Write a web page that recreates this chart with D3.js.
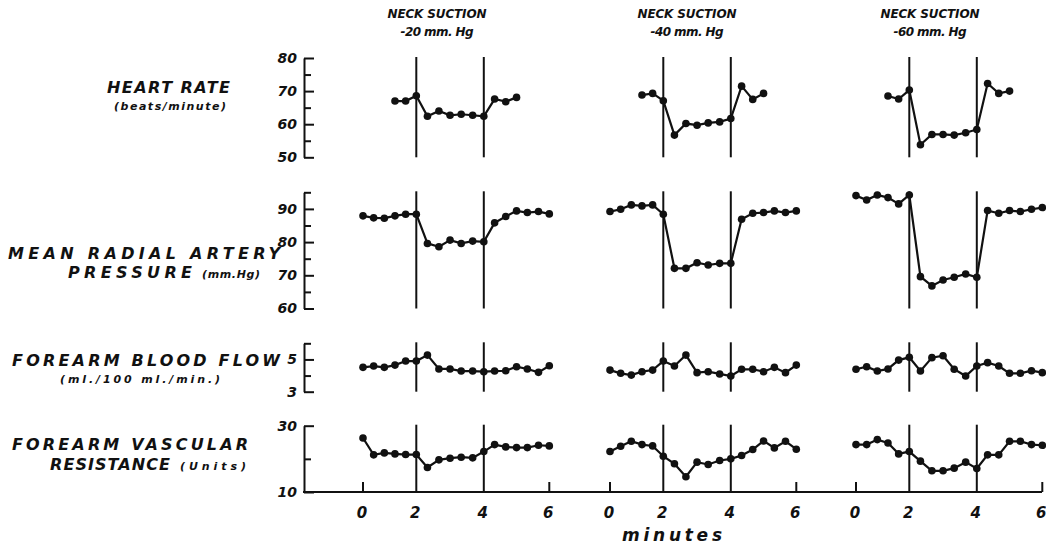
<!DOCTYPE html>
<html>
<head>
<meta charset="utf-8">
<script src="https://cdn.jsdelivr.net/npm/d3@7"></script>
<style>
  body { margin: 0; background: #fff; }
  text { font-family: "DejaVu Sans", Verdana, sans-serif; font-style: italic; font-weight: bold; fill: #111; }
</style>
</head>
<body>
<script>
// sample times (minutes); the control period before suction is sampled more sparsely
const times = [0, 0.4, 0.8, 1.2, 1.6, 2, 2.33, 2.67, 3, 3.33, 3.67, 4, 4.33, 4.67, 5, 5.33, 5.67, 6];
const hrTimes = [1.2, 1.6, 2, 2.33, 2.67, 3, 3.33, 3.67, 4, 4.33, 4.67, 5];
const xTicks = [0, 2, 4, 6];
const suction = ['-20 mm. Hg', '-40 mm. Hg', '-60 mm. Hg'];

// one array per suction level
const heartRate = [
  [67.0, 67.0, 68.6, 62.4, 64.0, 62.7, 63.0, 62.7, 62.4, 67.6, 66.8, 68.1],
  [68.8, 69.3, 67.1, 56.7, 60.2, 59.7, 60.4, 60.7, 61.7, 71.5, 67.5, 69.3],
  [68.5, 67.6, 70.3, 53.8, 56.9, 56.9, 56.7, 57.4, 58.4, 72.3, 69.3, 70.0]
];
const arterialPressure = [
  [87.9, 87.3, 87.2, 87.9, 88.4, 88.4, 79.6, 78.6, 80.6, 79.6, 80.3, 80.1, 85.8, 87.7, 89.4, 88.9, 89.2, 88.5],
  [89.2, 89.9, 91.2, 90.9, 91.2, 88.4, 72.1, 72.1, 73.8, 73.1, 73.6, 73.6, 86.9, 88.7, 88.9, 89.4, 88.9, 89.4],
  [94.0, 92.7, 94.2, 93.4, 91.5, 94.2, 69.6, 66.8, 68.6, 69.4, 70.4, 69.4, 89.5, 88.7, 89.5, 89.2, 89.9, 90.4]
];
const bloodFlow = [
  [4.51, 4.59, 4.51, 4.65, 4.90, 4.90, 5.27, 4.41, 4.41, 4.28, 4.28, 4.24, 4.28, 4.30, 4.55, 4.41, 4.20, 4.61],
  [4.34, 4.14, 4.03, 4.24, 4.34, 4.90, 4.59, 5.27, 4.18, 4.24, 4.10, 3.97, 4.39, 4.39, 4.24, 4.51, 4.18, 4.65],
  [4.39, 4.55, 4.28, 4.41, 4.96, 5.13, 4.28, 5.11, 5.23, 4.39, 3.97, 4.59, 4.80, 4.59, 4.14, 4.14, 4.30, 4.18]
];
const vascularResistance = [
  [26.3, 21.2, 21.8, 21.5, 21.3, 21.3, 17.4, 19.7, 20.2, 20.5, 20.3, 22.2, 24.3, 23.6, 23.4, 23.4, 24.1, 23.9],
  [22.2, 23.8, 25.3, 24.3, 23.9, 20.8, 18.5, 14.6, 19.0, 18.3, 19.5, 20.0, 21.0, 22.8, 25.4, 23.3, 25.3, 22.9],
  [24.3, 24.3, 25.8, 24.8, 21.5, 22.2, 19.3, 16.4, 16.4, 17.2, 19.0, 17.1, 21.2, 21.2, 25.3, 25.3, 24.3, 24.1]
];

const width = 1046, height = 545;
const axisX = 304;
const panelLeft = [363, 610, 856];
const panelSteps = [0, 53.3, 120.8, 186.3];
const headingX = [437, 687, 930];

const rows = [
  { data: heartRate, t: hrTimes, domain: [50, 80], range: [157.3, 58], major: [50, 60, 70, 80], minor: [55, 65, 75],
    label: [{ s: 'HEART RATE', x: 107, y: 93, len: 123, size: 16 }, { s: '(beats/minute)', x: 114, y: 110, len: 112, size: 11 }] },
  { data: arterialPressure, t: times, domain: [60, 95], range: [308.5, 192.3], major: [60, 70, 80, 90], minor: [65, 75, 85, 95],
    label: [{ s: 'MEAN RADIAL ARTERY', x: 8, y: 259, len: 272, size: 16 }, { s: 'PRESSURE', x: 68, y: 278, len: 124, size: 16 },
            { s: '(mm.Hg)', x: 202, y: 278, len: 58, size: 11 }] },
  { data: bloodFlow, t: times, domain: [3, 6], range: [391.7, 343.3], major: [3, 5], minor: [4, 6],
    label: [{ s: 'FOREARM BLOOD FLOW', x: 12, y: 366, len: 268, size: 16 }, { s: '(ml./100 ml./min.)', x: 60, y: 383, len: 160, size: 11 }] },
  { data: vascularResistance, t: times, domain: [10, 30], range: [492, 425.7], major: [10, 30], minor: [20],
    label: [{ s: 'FOREARM VASCULAR', x: 12, y: 450, len: 236, size: 16 }, { s: 'RESISTANCE', x: 50, y: 470, len: 120, size: 16 },
            { s: '(Units)', x: 180, y: 470, len: 66, size: 11 }] }
];

const svg = d3.select('body').append('svg').attr('width', width).attr('height', height);

// piecewise x scale per panel, matches the uneven spacing of the drawing
const xScales = panelLeft.map(x0 => d3.scaleLinear().domain(xTicks).range(panelSteps.map(d => x0 + d)));

// panel headings
headingX.forEach((cx, i) => {
  svg.append('text').attr('x', cx).attr('y', 18).attr('text-anchor', 'middle')
    .attr('font-size', 12).attr('textLength', 99).attr('lengthAdjust', 'spacing').text('NECK SUCTION');
  svg.append('text').attr('x', cx).attr('y', 36).attr('text-anchor', 'middle')
    .attr('font-size', 12).attr('textLength', 73).attr('lengthAdjust', 'spacing').text(suction[i]);
});

rows.forEach(row => {
  const y = d3.scaleLinear().domain(row.domain).range(row.range);
  const g = svg.append('g');

  // row labels
  row.label.forEach(l => {
    g.append('text').attr('x', l.x).attr('y', l.y).attr('font-size', l.size)
      .attr('textLength', l.len).attr('lengthAdjust', 'spacing').text(l.s);
  });

  // y axis: ticks point right, numbers on the left
  const ax = g.append('g').attr('transform', `translate(${axisX},0)`);
  ax.call(d3.axisLeft(y).tickValues(row.major).tickSizeInner(-10).tickSizeOuter(0).tickPadding(7).tickFormat(d3.format('d')));
  ax.append('g').call(d3.axisLeft(y).tickValues(row.minor).tickSizeInner(-7).tickSizeOuter(0).tickFormat(''))
    .select('.domain').remove();
  ax.selectAll('path, line').attr('stroke', '#111').attr('stroke-width', 2);
  ax.selectAll('text').attr('font-size', 14).attr('fill', '#111');
  ax.attr('font-family', null).attr('font-size', null);

  row.data.forEach((series, i) => {
    const x = xScales[i];
    // suction on / off markers
    [2, 4].forEach(t => {
      g.append('line').attr('x1', x(t)).attr('x2', x(t)).attr('y1', row.range[1] - 1).attr('y2', row.range[0])
        .attr('stroke', '#111').attr('stroke-width', 2);
    });
    const pts = series.map((v, k) => [x(row.t[k]), y(v)]);
    g.append('path').attr('d', d3.line()(pts)).attr('fill', 'none').attr('stroke', '#111').attr('stroke-width', 2.2);
    g.selectAll(null).data(pts).enter().append('circle')
      .attr('cx', d => d[0]).attr('cy', d => d[1]).attr('r', 3.8).attr('fill', '#111');
  });
});

// x axis along the bottom
const baseY = 492;
svg.append('line').attr('x1', axisX - 1).attr('x2', 1042).attr('y1', baseY).attr('y2', baseY)
  .attr('stroke', '#111').attr('stroke-width', 2);
xScales.forEach(x => {
  [0, 6].forEach(t => {
    svg.append('line').attr('x1', x(t)).attr('x2', x(t)).attr('y1', baseY - 10).attr('y2', baseY)
      .attr('stroke', '#111').attr('stroke-width', 2);
  });
  xTicks.forEach(t => {
    svg.append('text').attr('x', x(t) - 1).attr('y', 518).attr('text-anchor', 'middle').attr('font-size', 15).text(t);
  });
});
svg.append('text').attr('x', 672).attr('y', 541).attr('text-anchor', 'middle').attr('font-size', 17)
  .attr('font-weight', 'normal').attr('textLength', 100).attr('lengthAdjust', 'spacing').text('minutes');
</script>
</body>
</html>
